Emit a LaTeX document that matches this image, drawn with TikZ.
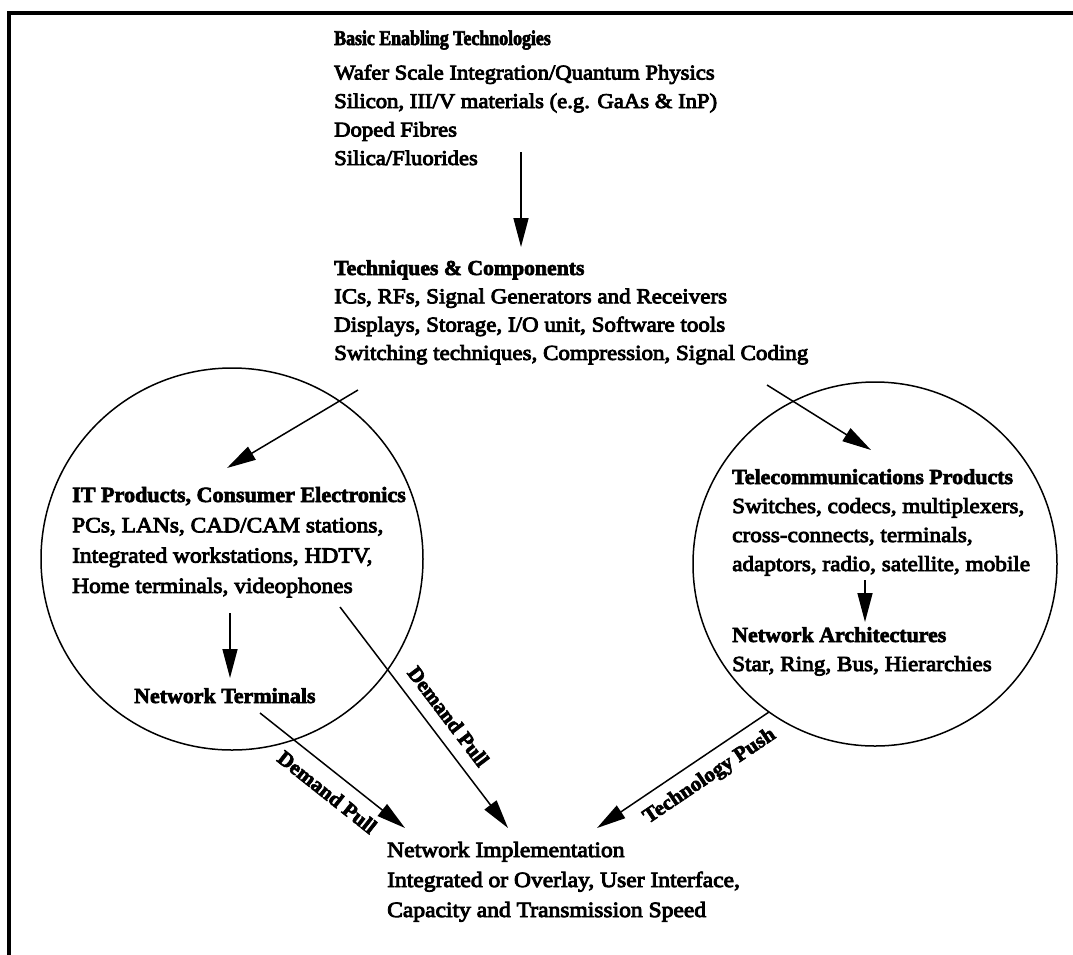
\documentclass[tikz,border=0pt]{standalone}
\usepackage{fontspec}
\setmainfont{Liberation Serif}
\newfontfamily\rmtext{Liberation Serif}[FakeStretch=1.08,FakeBold=4]
\newfontfamily\bdtext{Liberation Serif Bold}[FakeStretch=1.02,FakeBold=3]
\newfontfamily\bdnarrow{Liberation Serif Bold}[FakeStretch=0.85,FakeBold=3]
\usetikzlibrary{arrows.meta}

% a block of left-aligned lines whose baseline is the baseline of its first line
\newcommand\textlines[2]{\vtop{\baselineskip=#1\relax\lineskip=0pt\lineskiplimit=-100pt\halign{##\hfil\cr#2\crcr}}}

\tikzset{
  txt/.style={inner sep=0pt, anchor=base west},
  ring/.style={circle, draw, line width=1.5pt, inner sep=0pt},
  conn/.style={line width=1.5pt, -{Triangle[length=29pt,width=15pt]}},
  lbl/.style={font=\bdtext\fontsize{21}{24}\selectfont, sloped, inner sep=0pt},
}

\begin{document}
\begin{tikzpicture}[x=1pt, y=-1pt]
\useasboundingbox (0,0) rectangle (1073,954);

% frame
\draw[line width=3.6pt] (1090,13) -- (9,13) -- (9,970);

% circles
\node[ring, minimum size=382pt] (itc) at (232,559) {};
\node[ring, minimum size=364pt] (tcc) at (875,564) {};

% text blocks
\node[txt, font=\rmtext\fontsize{21}{28}\selectfont] (basic) at (334,45)
  {\textlines{28.5pt}{{\bdnarrow\fontsize{21}{21}\selectfont Basic Enabling Technologies}\cr
   \noalign{\vskip6pt}
   Wafer Scale Integration/Quantum Physics\cr
   Silicon, III/V materials (e.g. GaAs \& InP)\cr
   Doped Fibres\cr
   Silica/Fluorides}};

\node[txt, font=\rmtext\fontsize{21.3}{28}\selectfont] (tech) at (334,275)
  {\textlines{28.3pt}{{\bdtext Techniques \& Components}\cr
   ICs, RFs, Signal Generators and Receivers\cr
   Displays, Storage, I/O unit, Software tools\cr
   Switching techniques, Compression, Signal Coding}};

\node[txt, font=\rmtext\fontsize{21.7}{28}\selectfont] (itp) at (72,502)
  {\textlines{30.3pt}{{\bdtext IT Products, Consumer Electronics}\cr
   PCs, LANs, CAD/CAM stations,\cr
   Integrated workstations, HDTV,\cr
   Home terminals, videophones}};

\node[txt, font=\bdtext\fontsize{21.5}{28}\selectfont] (nterm) at (134,703) {Network Terminals};

\node[txt, font=\rmtext\fontsize{21.5}{28}\selectfont] (tcp) at (732,484)
  {\textlines{29pt}{{\bdtext Telecommunications Products}\cr
   Switches, codecs, multiplexers,\cr
   cross-connects, terminals,\cr
   adaptors, radio, satellite, mobile}};

\node[txt, font=\rmtext\fontsize{21.5}{28}\selectfont] (narch) at (732,642)
  {\textlines{29pt}{{\bdtext Network Architectures}\cr
   Star, Ring, Bus, Hierarchies}};

\node[txt, font=\rmtext\fontsize{21.8}{28}\selectfont] (nimp) at (387,857)
  {\textlines{30pt}{Network Implementation\cr
   Integrated or Overlay, User Interface,\cr
   Capacity and Transmission Speed}};

% connector end points
\coordinate (a1s) at (521,152);  \coordinate (a1e) at (521,247);
\coordinate (a2s) at (358,390);  \coordinate (a2e) at (227,468);
\coordinate (a3s) at (767,385);  \coordinate (a3e) at (871,450);
\coordinate (a4s) at (230,613);  \coordinate (a4e) at (230,678);
\coordinate (a5s) at (865,580);  \coordinate (a5e) at (865,622);
\coordinate (a6s) at (260,713);  \coordinate (a6e) at (405,828);
\coordinate (a7s) at (340,607);  \coordinate (a7e) at (508,828);
\coordinate (a8s) at (769,712);  \coordinate (a8e) at (597,828);

% connectors
\draw[conn] (a1s) -- (a1e);
\draw[conn] (a2s) -- (a2e);
\draw[conn] (a3s) -- (a3e);
\draw[conn] (a4s) -- (a4e);
\draw[conn] (a5s) -- (a5e);
\draw[conn] (a6s) -- node[lbl, pos=0.55, below=12pt] (dp1) {Demand Pull} (a6e);
\draw[conn] (a7s) -- node[lbl, pos=0.55, above=12pt] (dp2) {Demand Pull} (a7e);
\draw[conn] (a8s) -- node[lbl, pos=0.41, below=10pt] (tpush) {Technology Push} (a8e);
\end{tikzpicture}
\end{document}
